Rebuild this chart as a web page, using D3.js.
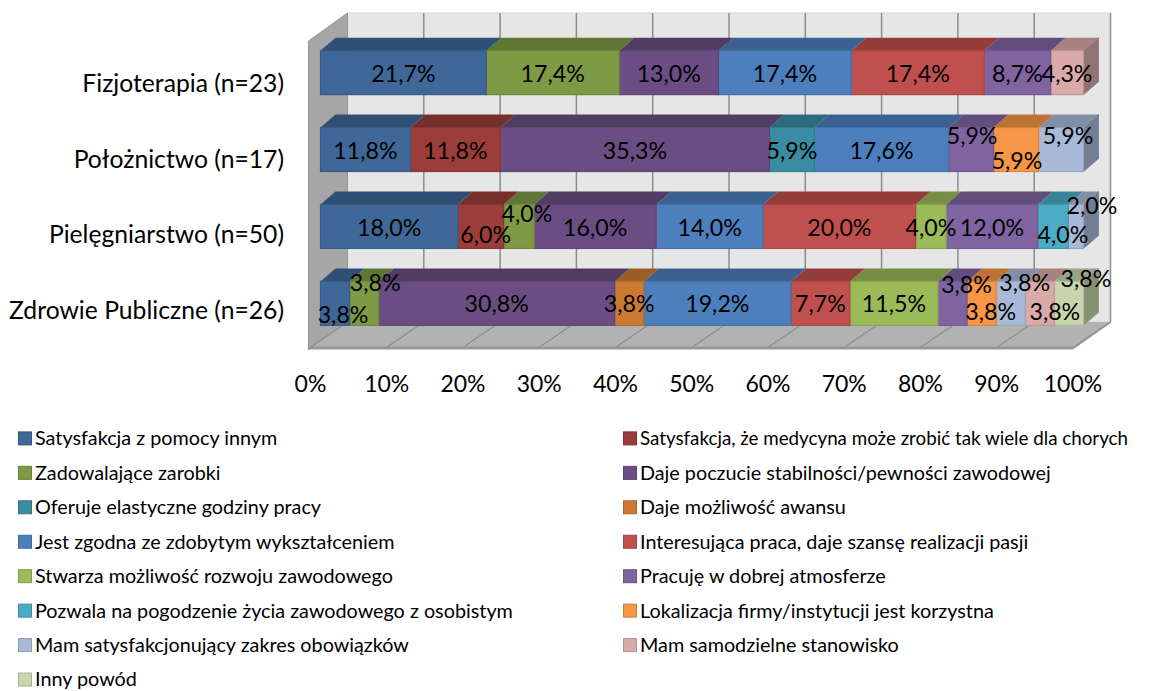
<!DOCTYPE html>
<html>
<head>
<meta charset="utf-8">
<script src="https://cdn.jsdelivr.net/npm/d3@7"></script>
<style>
  body { margin: 0; background: #fff; }
  text { font-family: Lato, sans-serif; fill: #000; }
</style>
</head>
<body>
<svg></svg>
<script>
const categories = ["Fizjoterapia (n=23)", "Położnictwo (n=17)", "Pielęgniarstwo (n=50)", "Zdrowie Publiczne (n=26)"];

const seriesNames = [
  "Satysfakcja z pomocy innym",
  "Satysfakcja, że medycyna może zrobić tak wiele dla chorych",
  "Zadowalające zarobki",
  "Daje poczucie stabilności/pewności zawodowej",
  "Oferuje elastyczne godziny pracy",
  "Daje możliwość awansu",
  "Jest zgodna ze zdobytym wykształceniem",
  "Interesująca praca, daje szansę realizacji pasji",
  "Stwarza możliwość rozwoju zawodowego",
  "Pracuję w dobrej atmosferze",
  "Pozwala na pogodzenie życia zawodowego z osobistym",
  "Lokalizacja firmy/instytucji jest korzystna",
  "Mam satysfakcjonujący zakres obowiązków",
  "Mam samodzielne stanowisko",
  "Inny powód"
];

// one row per category, one column per series
const fizjoterapia = [21.7, 0, 17.4, 13.0, 0, 0, 17.4, 17.4, 0, 8.7, 0, 0, 0, 4.3, 0];
const poloznictwo = [11.8, 11.8, 0, 35.3, 5.9, 0, 17.6, 0, 0, 5.9, 0, 5.9, 5.9, 0, 0];
const pielegniarstwo = [18.0, 6.0, 4.0, 16.0, 0, 0, 14.0, 20.0, 4.0, 12.0, 4.0, 0, 2.0, 0, 0];
const zdrowiePubliczne = [3.8, 0, 3.8, 30.8, 0, 3.8, 19.2, 7.7, 11.5, 3.8, 0, 3.8, 3.8, 3.8, 3.8];
const rows = [fizjoterapia, poloznictwo, pielegniarstwo, zdrowiePubliczne];

const xTicks = [0, 10, 20, 30, 40, 50, 60, 70, 80, 90, 100];

const fills = ["#3f6797", "#9b3d3a", "#7e9a45", "#6a4e83", "#3a8ca2", "#cc7a33", "#4d7fbd", "#c0504d", "#9bbb59", "#8064a2", "#4bacc6", "#f79646", "#a9bad8", "#d9aaa9", "#c7d6ac"];

// labels the original chart moved by hand: [row, series, dx, dy]
const labelNudges = [
  [1, 9, 1, -15], [1, 11, 1, 10], [1, 12, 7, -15],
  [2, 1, 5, 7], [2, 2, 8, -13.5], [2, 10, 10, 7], [2, 12, 16, -21.5],
  [3, 0, 8, 10.5], [3, 2, 11, -21.5], [3, 9, 14, -19.5], [3, 11, 9, 7.5],
  [3, 12, 14, -21.5], [3, 13, 15, 7.5], [3, 14, 17, -25.5]
];

const w = 1158, h = 691;
const svg = d3.select("svg").attr("width", w).attr("height", h).style("display", "block");

// fake 3d: three x scales for the front of the bars, the back wall and the floor edge
const x = d3.scaleLinear().domain([0, 100]).range([320.5, 1083.5]);
const xBack = d3.scaleLinear().domain([0, 100]).range([347.5, 1110.5]);
const xFloor = d3.scaleLinear().domain([0, 100]).range([311, 1073.5]);

const y = d3.scaleBand().domain(categories).range([34.2, 341.8]).paddingInner(3 / 7).paddingOuter(3 / 14);
const yLabels = d3.scaleBand().domain(categories).range([46, 349]);

const depthX = 15, depthY = 13;
const wallTop = 13, wallBottom = 322, floorFront = 349;

const poly = pts => pts.map(p => p.join(",")).join(" ");

// walls
svg.append("polygon").attr("fill", "#e6e6e6").attr("stroke", "#d9d9d9")
  .attr("points", poly([[xBack(0), wallTop], [xBack(100), wallTop], [xBack(100), wallBottom], [xBack(0), wallBottom]]));
svg.append("polygon").attr("fill", "#a6a6a6").attr("stroke", "#969696")
  .attr("points", poly([[308.5, 41], [xBack(0), wallTop], [xBack(0), wallBottom], [308.5, floorFront + 1]]));
svg.append("polygon").attr("fill", "#b2b2b2")
  .attr("points", poly([[xFloor(0), floorFront - 2], [xBack(0), wallBottom], [xBack(100), wallBottom], [xFloor(100), floorFront - 2]]));

// gridlines on the back wall and floor
svg.append("g").selectAll("line").data(xTicks.slice(1)).enter().append("line")
  .attr("x1", d => xBack(d)).attr("x2", d => xBack(d))
  .attr("y1", wallTop).attr("y2", wallBottom)
  .attr("stroke", "#8c8c8c").attr("stroke-width", 1.5);
svg.append("g").selectAll("line").data(xTicks).enter().append("line")
  .attr("x1", d => xFloor(d)).attr("x2", d => xBack(d))
  .attr("y1", floorFront - 2).attr("y2", wallBottom)
  .attr("stroke", "#8c8c8c").attr("stroke-width", 1.2);
svg.append("line").attr("x1", 308.5).attr("x2", xFloor(100))
  .attr("y1", floorFront - 1).attr("y2", floorFront - 1)
  .attr("stroke", "#979797").attr("stroke-width", 3);
svg.append("line").attr("x1", xFloor(100)).attr("x2", xBack(100))
  .attr("y1", floorFront - 1).attr("y2", wallBottom)
  .attr("stroke", "#979797").attr("stroke-width", 2);

// stacked bars, normalised to 100% like the original
const table = rows.map(r => {
  const o = {};
  seriesNames.forEach((s, i) => { o[s] = r[i]; });
  return o;
});
const stacked = d3.stack().keys(seriesNames).offset(d3.stackOffsetExpand)(table);

const segments = [];
stacked.forEach((layer, si) => {
  layer.forEach((d, ri) => {
    if (rows[ri][si] > 0) segments.push({ si, ri, x0: d[0] * 100, x1: d[1] * 100, value: rows[ri][si] });
  });
});

const bars = svg.append("g");
// draw right to left so each top face tucks under its left neighbour
const order = segments.slice().sort((a, b) => a.ri - b.ri || b.si - a.si);
order.forEach(s => {
  const c = d3.color(fills[s.si]);
  const top = y(categories[s.ri]);
  const bottom = top + y.bandwidth();
  const g = bars.append("g");
  if (s.x1 > 99.9) {
    g.append("polygon").attr("fill", c.darker(1.1)).attr("stroke", c.darker(0.9))
      .attr("points", poly([[x(s.x1), top], [x(s.x1) + depthX, top - depthY], [x(s.x1) + depthX, bottom - depthY], [x(s.x1), bottom]]));
  }
  g.append("polygon").attr("fill", c.darker(0.75))
    .attr("points", poly([[x(s.x0), top], [x(s.x0) + depthX, top - depthY], [x(s.x1) + depthX, top - depthY], [x(s.x1), top]]));
  g.append("rect")
    .attr("x", x(s.x0)).attr("y", top)
    .attr("width", x(s.x1) - x(s.x0)).attr("height", y.bandwidth())
    .attr("fill", c).attr("stroke", c.darker(0.35)).attr("stroke-width", 1.2);
});

// data labels
const nudgeFor = s => labelNudges.find(n => n[0] === s.ri && n[1] === s.si) || [0, 0, 0, 0];
svg.append("g").selectAll("text").data(segments).enter().append("text")
  .attr("x", s => x((s.x0 + s.x1) / 2) + nudgeFor(s)[2])
  .attr("y", s => y(categories[s.ri]) + y.bandwidth() / 2 + nudgeFor(s)[3] + 1)
  .attr("dy", "0.35em")
  .attr("text-anchor", "middle")
  .style("font-size", "23.2px")
  .text(s => s.value.toFixed(1).replace(".", ",") + "%");

// axes
const xAxis = svg.append("g").attr("transform", "translate(-1,376)")
  .call(d3.axisBottom(xFloor).tickValues(xTicks).tickFormat(d => d + "%").tickSize(0).tickPadding(0));
xAxis.select(".domain").remove();
xAxis.selectAll("text").style("font-size", "23px");

const yAxis = svg.append("g").attr("transform", "translate(284,0)")
  .call(d3.axisLeft(yLabels).tickSize(0).tickPadding(0));
yAxis.select(".domain").remove();
yAxis.selectAll("text").style("font-size", "24.7px");

// legend, read left to right in two columns
const legend = svg.append("g").selectAll("g").data(seriesNames).enter().append("g")
  .attr("transform", (d, i) => `translate(${i % 2 ? 623 : 18},${438.4 + Math.floor(i / 2) * 34.45})`);
legend.append("rect")
  .attr("x", 0.5).attr("y", -6.5).attr("width", 13).attr("height", 13)
  .attr("fill", (d, i) => fills[i])
  .attr("stroke", (d, i) => d3.color(fills[i]).darker(0.5))
  .attr("stroke-width", 1);
// the long second entry has to stay inside the page width, so squeeze it
legend.append("text")
  .attr("x", 17)
  .attr("dy", "0.35em")
  .style("font-size", "19.8px")
  .attr("textLength", (d, i) => i === 1 ? 488 : null)
  .attr("lengthAdjust", "spacingAndGlyphs")
  .text(d => d);
</script>
</body>
</html>
